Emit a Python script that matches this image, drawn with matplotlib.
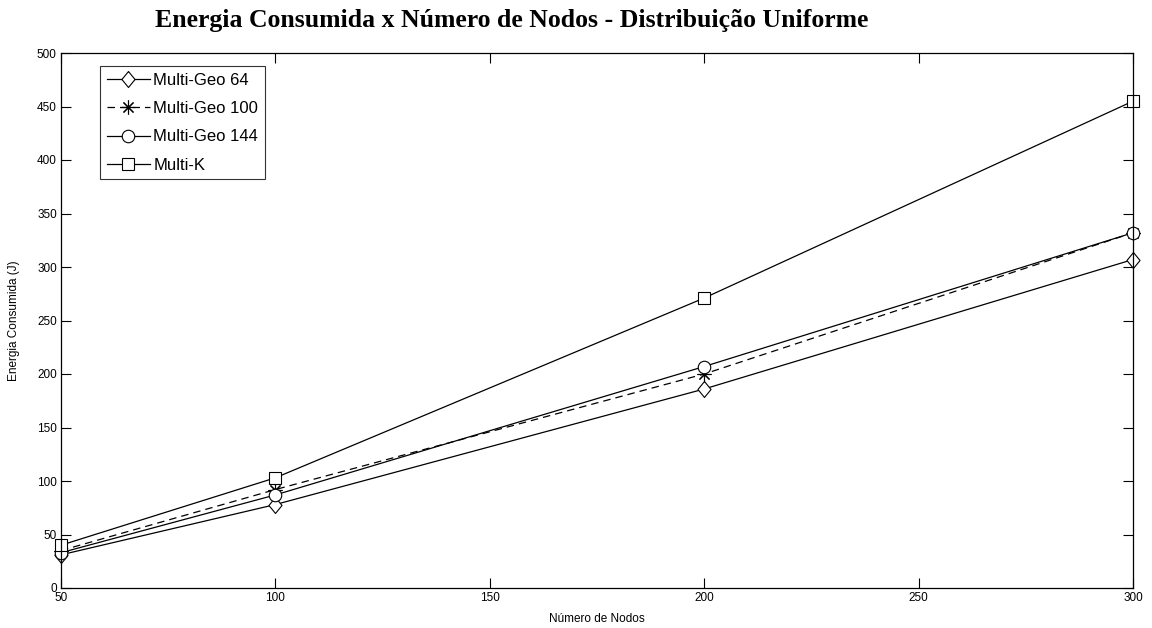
import matplotlib
matplotlib.use("Agg")
import matplotlib.pyplot as plt
from matplotlib.ticker import MultipleLocator

nodes = [50, 100, 200, 300]
geo64 = [31, 78, 186, 307]
geo100 = [35, 92, 200, 332]
geo144 = [33, 87, 207, 332]
multik = [40, 103, 271, 455]

labels = ["Multi-Geo 64", "Multi-Geo 100", "Multi-Geo 144", "Multi-K"]

plt.rcParams["font.family"] = ["Liberation Sans", "DejaVu Sans"]

fig = plt.figure(figsize=(11.52, 6.28), dpi=100)
ax = fig.add_axes([61 / 1152, 1 - 588 / 628, (1133 - 61) / 1152, (588 - 53) / 628])

# slightly tall diamond, as drawn by the original plotting tool
diamond = [(0, 1), (0.82, 0), (0, -1), (-0.82, 0), (0, 1)]

lw = 0.9
common = dict(color="black", linewidth=lw, markerfacecolor="white",
              markeredgecolor="black", markeredgewidth=0.8, clip_on=False)
ax.plot(nodes, geo64, marker=diamond, markersize=11.5, label=labels[0], **common)
ax.plot(nodes, geo100, marker=(8, 2, 0), markersize=10, linestyle=(0, (6, 4)),
        label=labels[1], **common)
ax.plot(nodes, geo144, marker="o", markersize=9, label=labels[2], **common)
ax.plot(nodes, multik, marker="s", markersize=8.5, label=labels[3], **common)

ax.set_xlim(50, 300)
ax.set_ylim(0, 500)
ax.xaxis.set_major_locator(MultipleLocator(50))
ax.yaxis.set_major_locator(MultipleLocator(50))
ax.tick_params(direction="in", length=7, width=0.8, top=True, right=True,
               labelsize=8.5, colors="black", pad=3)
for s in ax.spines.values():
    s.set_linewidth(0.9)

ax.set_xlabel("Número de Nodos", fontsize=8.5, labelpad=6)
ax.set_ylabel("Energia Consumida (J)", fontsize=8.5, labelpad=12)

fig.text(0.444, 1 - 21 / 628, "Energia Consumida x Número de Nodos - Distribuição Uniforme",
         ha="center", va="center", fontsize=18.5, fontweight="bold",
         family=["Liberation Serif", "DejaVu Serif"])

leg = ax.legend(loc="upper left", bbox_to_anchor=(39 / 1072, 1 - 13 / 535),
                fontsize=12, frameon=True, fancybox=False, edgecolor="black",
                handlelength=2.6, handletextpad=0.2, borderpad=0.4,
                labelspacing=0.8, borderaxespad=0)
leg.get_frame().set_linewidth(0.8)

fig.savefig("out.png", dpi=100, facecolor="white")
